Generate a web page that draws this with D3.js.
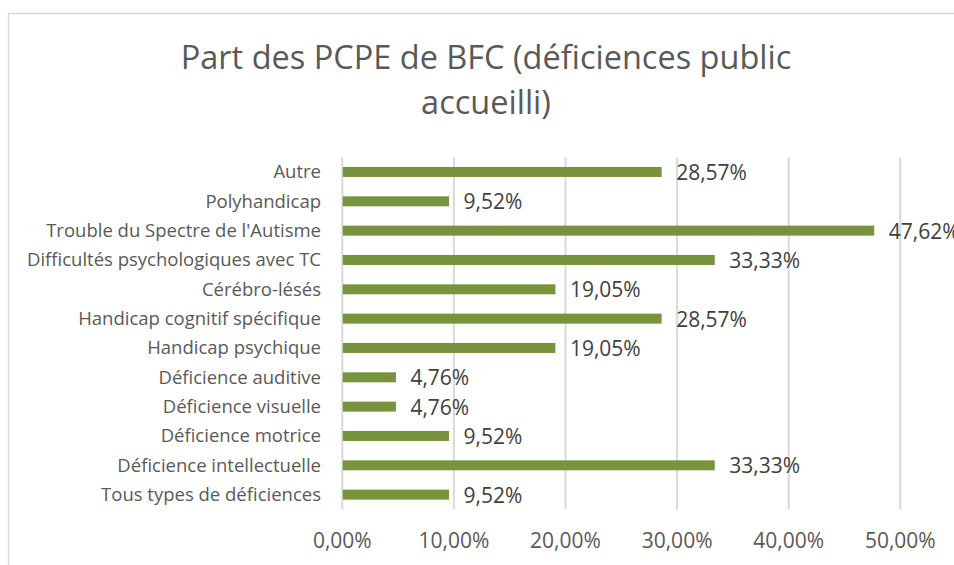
<!DOCTYPE html>
<html>
<head>
<meta charset="UTF-8">
<title>Part des PCPE de BFC</title>
<style>
    body {
        margin: 0;
        background: #fff;
        font-family: "Open Sans", sans-serif;
    }
    .grid line {
        stroke: #d9d9d9;
        stroke-width: 2px;
    }
    .cat text, .tick text {
        fill: #595959;
    }
</style>
</head>
<body>
<div id="chart"></div>
<script src="https://cdn.jsdelivr.net/npm/d3@7"></script>
<script>
    // categories top to bottom, values in %
    const categories = [
        "Autre",
        "Polyhandicap",
        "Trouble du Spectre de l'Autisme",
        "Difficultés psychologiques avec TC",
        "Cérébro-lésés",
        "Handicap cognitif spécifique",
        "Handicap psychique",
        "Déficience auditive",
        "Déficience visuelle",
        "Déficience motrice",
        "Déficience intellectuelle",
        "Tous types de déficiences"
    ];
    const values = [28.57, 9.52, 47.62, 33.33, 19.05, 28.57, 19.05, 4.76, 4.76, 9.52, 33.33, 9.52];
    const ticks = [0, 10, 20, 30, 40, 50];
    const titleLines = ["Part des PCPE de BFC (déficiences public", "accueilli)"];

    const W = 954, H = 565;
    const fmt = v => d3.format(".2f")(v).replace(".", ",") + "%";

    let svg = d3.select("#chart").append("svg")
        .attr("width", W)
        .attr("height", H);

    // chart border
    svg.append("rect")
        .attr("x", 8.5).attr("y", 13.5)
        .attr("width", W + 20).attr("height", H + 20)
        .attr("fill", "none")
        .attr("stroke", "#d9d9d9")
        .attr("stroke-width", 1.5);

    svg.append("text")
        .attr("text-anchor", "middle")
        .attr("fill", "#595959")
        .style("font-size", "32.5px")
        .selectAll("tspan")
        .data(titleLines)
        .enter().append("tspan")
        .attr("x", 486)
        .attr("y", (d, i) => 69 + i * 45)
        .text(d => d);

    let x = d3.scaleLinear().domain([0, 50]).range([342.3, 900.3]);
    let y = d3.scaleBand().domain(categories).range([157.3, 509.3]).paddingInner(0.66).paddingOuter(0.33);

    // gridlines
    svg.append("g").attr("class", "grid")
        .selectAll("line")
        .data(ticks)
        .enter().append("line")
        .attr("x1", d => x(d)).attr("x2", d => x(d))
        .attr("y1", 157.3).attr("y2", 509.3);

    // tick labels
    svg.append("g").attr("class", "tick")
        .selectAll("text")
        .data(ticks)
        .enter().append("text")
        .attr("x", d => x(d))
        .attr("y", 548)
        .attr("text-anchor", "middle")
        .style("font-size", "21px")
        .text(d => fmt(d));

    // category labels
    svg.append("g").attr("class", "cat")
        .selectAll("text")
        .data(categories)
        .enter().append("text")
        .attr("x", 321)
        .attr("y", d => y(d) + y.bandwidth() / 2)
        .attr("dy", "0.35em")
        .attr("text-anchor", "end")
        .style("font-size", "18.5px")
        .text(d => d);

    // bars
    svg.append("g")
        .selectAll("rect")
        .data(values)
        .enter().append("rect")
        .attr("x", x(0) + 0.5)
        .attr("y", (d, i) => y(categories[i]))
        .attr("width", d => x(d) - x(0))
        .attr("height", y.bandwidth())
        .attr("fill", "#77933c");

    // value labels
    svg.append("g")
        .selectAll("text")
        .data(values)
        .enter().append("text")
        .attr("x", d => x(d) + 15)
        .attr("y", (d, i) => y(categories[i]) + y.bandwidth() / 2 + 8)
        .attr("fill", "#404040")
        .style("font-size", "21px")
        .text(d => fmt(d));
</script>
</body>
</html>
